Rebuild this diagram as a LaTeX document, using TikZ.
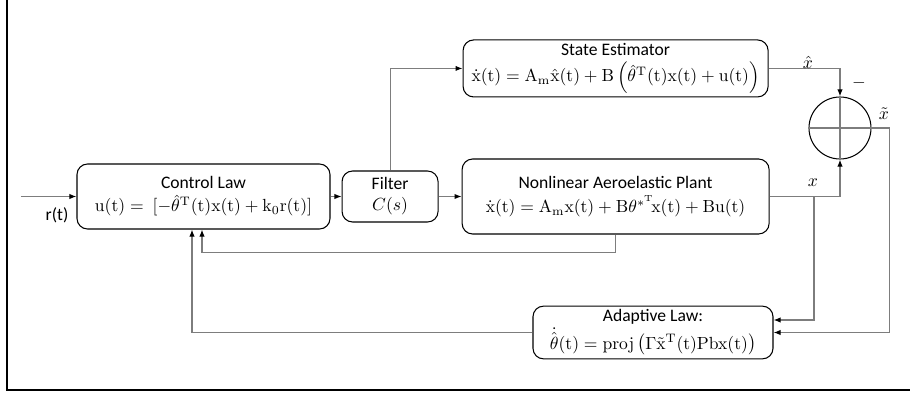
\documentclass[tikz,border=0pt]{standalone}
\usepackage{amsmath,amssymb}
\usepackage[no-math]{fontspec}
\setmainfont{Carlito}
\usetikzlibrary{arrows.meta,positioning,calc}
\definecolor{wiregray}{RGB}{125,125,125}

\begin{document}
\begin{tikzpicture}[
    >={Latex[length=4pt,width=3pt,color=black]},
    box/.style={rectangle, draw, rounded corners=6pt, align=center, inner sep=2pt, line width=0.6pt},
    wire/.style={draw=wiregray, line width=0.6pt}
]
    % page and frame
    \useasboundingbox (0,0) rectangle (18.2,-7.88);
    \draw[line width=0.9pt] (0.14,0) -- (0.14,-7.8) -- (18.2,-7.8);

    % forward path
    \coordinate (in) at (0.42,-3.93);
    \node[box, minimum width=5.06cm, minimum height=1.3cm] (law) at (4.07,-3.93)
        {Control Law\\[1pt] $\mathrm{u(t) =\ [-\hat{\theta}^T(t)x(t) + k_0r(t)]}$};
    \node[box, minimum width=1.92cm, minimum height=1.02cm, right=0.22cm of law] (filter)
        {Filter\\ $C(s)$};
    \node[box, minimum width=6.14cm, minimum height=1.5cm, right=0.46cm of filter] (plant)
        {Nonlinear Aeroelastic Plant\\[2pt] $\mathrm{\dot{x}(t) = A_m x(t) + B\theta^{*^T}\!x(t) + Bu(t)}$};

    % estimator and error
    \node[box, minimum width=6.1cm, minimum height=1.14cm, above=1.22cm of plant] (est)
        {State Estimator\\[3pt] $\mathrm{\dot{x}(t) = A_m\hat{x}(t) + B\left(\hat{\theta}^T(t)x(t) + u(t)\right)}$};
    \node[circle, draw, minimum size=1.24cm, inner sep=0pt, line width=0.6pt] (sum) at (16.8,-2.56) {};
    \draw[wire] (sum.west) -- (sum.east);
    \draw[wire] (sum.north) -- (sum.south);

    % adaptation
    \node[box, minimum width=4.8cm, minimum height=1.02cm] (adapt) at (13.06,-6.65)
        {Adaptive Law:\\[1pt] $\mathrm{\dot{\hat{\theta}}(t) = proj\left(\Gamma\tilde{x}^T(t)Pbx(t)\right)}$};

    % signals
    \draw[wire, ->] (in) -- (law);
    \node at (1.14,-4.3) {r(t)};
    \draw[wire, ->] (law) -- (filter);
    \draw[wire, ->] (filter) -- (plant);
    \draw[wire, ->] (filter.north) |- (est.west);
    \draw[wire, ->] (est.east) -| (sum.north);
    \node at (16.16,-1.24) {$\hat{x}$};
    \node at (17.18,-1.66) {$-$};
    \draw[wire, ->] (plant.east) -| (sum.south);
    \node at (16.26,-3.66) {$x$};
    \coordinate (xsplit) at (16.28,-3.93);
    \draw[wire, ->] (xsplit) |- ($(adapt.east)+(0,0.25)$);
    \draw[wire, ->] (sum.east) -- ++(0.36,0) |- (adapt.east);
    \node at (17.68,-2.28) {$\tilde{x}$};

    % feedback to the control law
    \draw[wire, ->] (plant.south) -- ++(0,-0.36) -| ($(law.south)+(-0.03,0)$);
    \draw[wire, ->] (adapt.west) -| ($(law.south)+(-0.23,0)$);
\end{tikzpicture}
\end{document}
